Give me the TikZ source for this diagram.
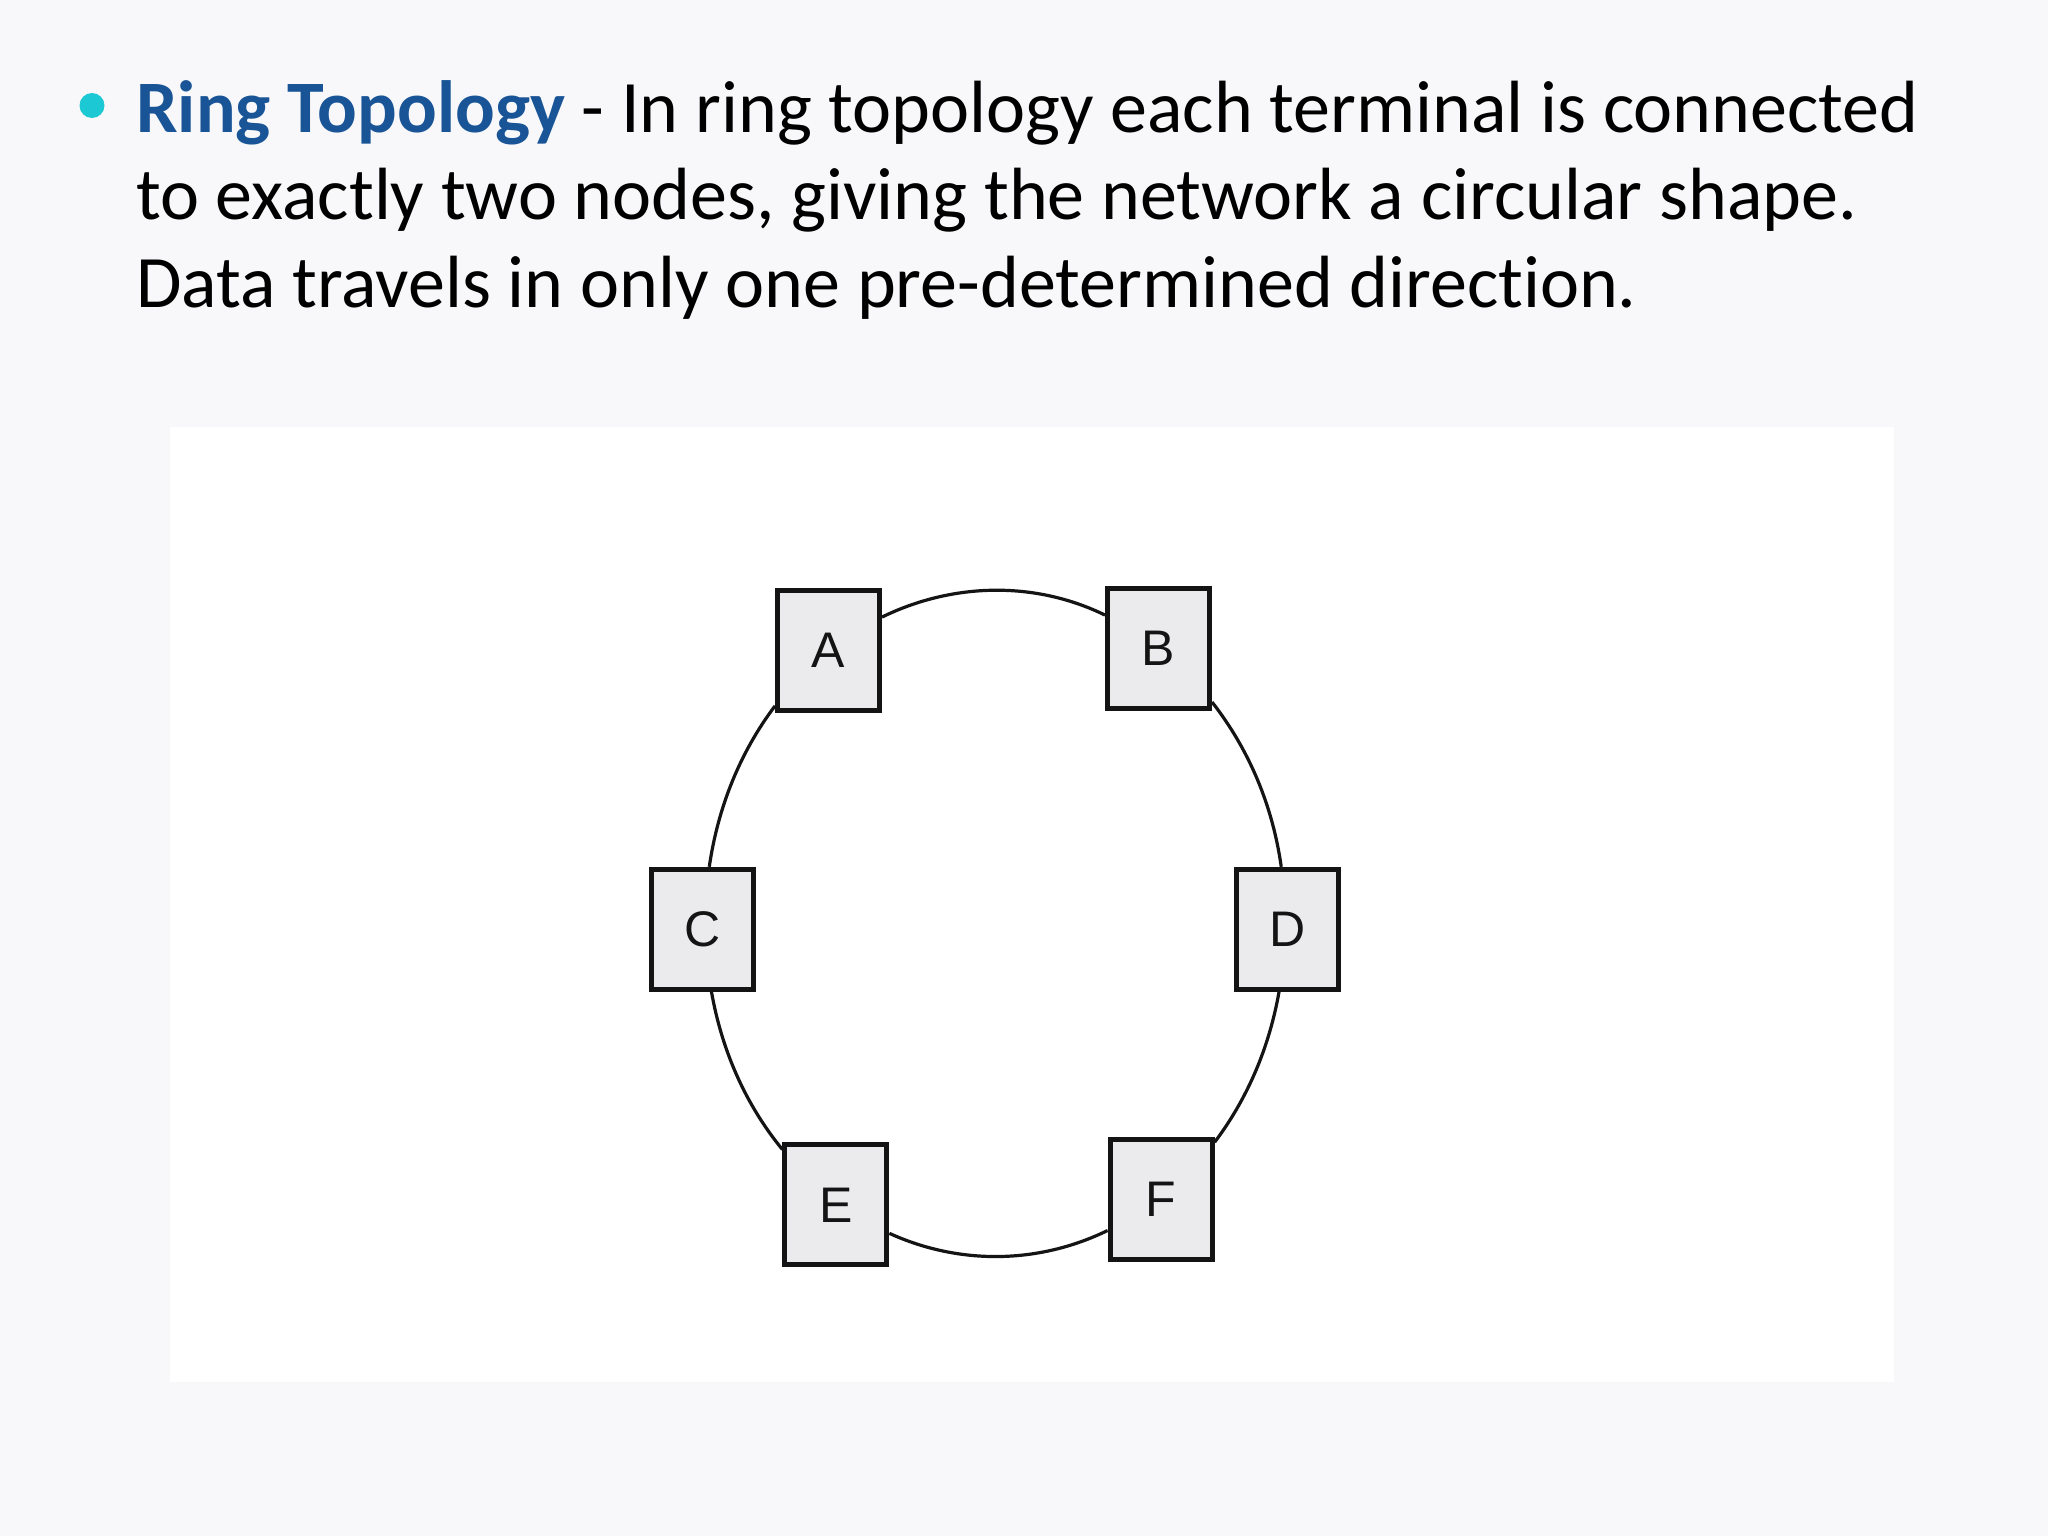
\documentclass[tikz,border=0pt]{standalone}
\usepackage{fontspec}
\setmainfont{Carlito}[Ligatures=NoCommon]
\newfontfamily\nodefont{Liberation Sans}
\definecolor{bgc}{RGB}{248,248,250}
\definecolor{titleblue}{RGB}{24,84,150}
\definecolor{bulletc}{RGB}{28,200,212}
\definecolor{boxfill}{RGB}{235,235,238}
\definecolor{inkc}{RGB}{20,20,20}
\tikzset{
  termbox/.style={draw=inkc, fill=boxfill, line width=5pt, minimum width=102pt, minimum height=120pt, inner sep=0pt, font=\nodefont\fontsize{50}{50}\selectfont, text=inkc},
  ringline/.style={draw=inkc, line width=3.2pt},
  bodytext/.style={anchor=base west, inner sep=0pt, font=\fontsize{74}{88}\selectfont, text=black}
}
\begin{document}
\begin{tikzpicture}[x=1pt,y=-1pt]
\useasboundingbox (0,0) rectangle (2048,1536);
\fill[bgc] (0,0) rectangle (2048,1536);
\fill[white] (170,427) rectangle (1894,1382);
% bullet
\fill[bulletc] (92,105.5) circle (12.5);
% text
\node[bodytext] (l1) at (136,132) {\textcolor{titleblue}{\textbf{Ring Topology}} - In ring topology each terminal is connected};
\node[bodytext] (l2) at (136,219) {to exactly two nodes, giving the network a circular shape.};
\node[bodytext] (l3) at (136,307) {Data travels in only one pre-determined direction.};
% terminals
\node[termbox] (A) at (828.5,650.5) {A};
\node[termbox] (B) at (1158.5,648.5) {B};
\node[termbox] (C) at (702.7,929.3) {C};
\node[termbox] (D) at (1287.8,929.3) {D};
\node[termbox] (E) at (835.9,1204.9) {E};
\node[termbox] (F) at (1161.1,1199.6) {F};
% ring connectors
\draw[ringline] (A.32) to[out=26,in=154,looseness=0.9] (B.148);
\draw[ringline] (B.-45) to[out=-52,in=98,looseness=0.87] (D.96);
\draw[ringline] (D.-98) to[out=-100,in=53,looseness=0.87] (F.47);
\draw[ringline] (F.-150) to[out=206,in=-24.5,looseness=0.9] (E.-28.5);
\draw[ringline] (E.134.6) to[out=129.4,in=-80,looseness=0.87] (C.-82.4);
\draw[ringline] (C.84) to[out=81.7,in=233,looseness=0.87] (A.-134);
\end{tikzpicture}
\end{document}
